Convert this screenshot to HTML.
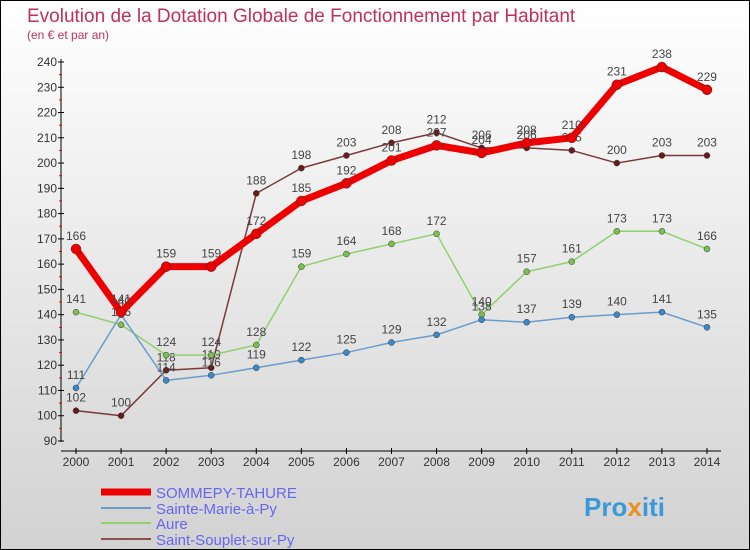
<!DOCTYPE html>
<html><head><meta charset="utf-8"><style>
body{margin:0}
#c{width:748px;height:548px;border:1px solid #000;background:linear-gradient(#fff,#d2d2d2);position:relative;font-family:"Liberation Sans",sans-serif}
</style></head><body>
<div id="c">
<svg id="s" width="748" height="548" style="position:absolute;left:0;top:0" font-family="Liberation Sans, sans-serif">
<text x="26" y="21" font-size="19" fill="#c0305a">Evolution de la Dotation Globale de Fonctionnement par Habitant</text>
<text x="26" y="38" font-size="12" fill="#c0305a">(en € et par an)</text>
<g id="axes"></g><g id="series"></g>
<g>
<line x1="100" y1="491" x2="150" y2="491" stroke="#e00" stroke-width="7"/>
<text x="155" y="497" font-size="15" fill="#6666ee">SOMMEPY-TAHURE</text>
<line x1="100" y1="507" x2="150" y2="507" stroke="#6a9ccc" stroke-width="2"/>
<text x="155" y="513" font-size="15" fill="#6666ee">Sainte-Marie-à-Py</text>
<line x1="100" y1="522" x2="150" y2="522" stroke="#90d070" stroke-width="2"/>
<text x="155" y="528" font-size="15" fill="#6666ee">Aure</text>
<line x1="100" y1="538" x2="150" y2="538" stroke="#8a5050" stroke-width="2"/>
<text x="155" y="544" font-size="15" fill="#6666ee">Saint-Souplet-sur-Py</text>
</g>
<text x="583" y="515" font-size="26" font-weight="bold" fill="#3a9ad8">Pro<tspan fill="#e89020">x</tspan>iti</text>
</svg></div>
<script>
const years=[2000,2001,2002,2003,2004,2005,2006,2007,2008,2009,2010,2011,2012,2013,2014];
const sommepy=[166,141,159,159,172,185,192,201,207,204,208,210,231,238,229];
const sainteMarie=[111,140,114,116,119,122,125,129,132,138,137,139,140,141,135];
const aure=[141,136,124,124,128,159,164,168,172,140,157,161,173,173,166];
const souplet=[102,100,118,119,188,198,203,208,212,206,206,205,200,203,203];
const yTicks=[90,100,110,120,130,140,150,160,170,180,190,200,210,220,230,240];
const NS="http://www.w3.org/2000/svg";
const X=i=>75+i*45.07, Y=v=>440-(v-90)*(379/150);
function el(t,a,p){const e=document.createElementNS(NS,t);for(const k in a)e.setAttribute(k,a[k]);p.appendChild(e);return e;}
const ax=document.getElementById('axes'),sg=document.getElementById('series');
el('line',{x1:60,y1:58,x2:60,y2:441,stroke:'#000'},ax);
el('line',{x1:60,y1:450,x2:720,y2:450,stroke:'#000'},ax);
yTicks.forEach(v=>{el('line',{x1:57,y1:Y(v),x2:63,y2:Y(v),stroke:'#000'},ax);
 if(v<240)el('line',{x1:58,y1:Y(v+5),x2:61,y2:Y(v+5),stroke:'#e00'},ax);
 const t=el('text',{x:56,y:Y(v)+4,'font-size':12,fill:'#333','text-anchor':'end'},ax);t.textContent=v;
 
 });
years.forEach((y,i)=>{el('line',{x1:X(i),y1:447,x2:X(i),y2:453,stroke:'#000'},ax);
 const t=el('text',{x:X(i),y:465,'font-size':12,fill:'#333','text-anchor':'middle'},ax);t.textContent=y;
 
 });
function draw(d,color,dot,w,r,name){const g=el('g',{},sg);
 
 
 el('polyline',{points:d.map((v,i)=>X(i)+','+Y(v)).join(' '),fill:'none',stroke:color,'stroke-width':w,'stroke-linejoin':'round'},g);
 d.forEach((v,i)=>{el('circle',{cx:X(i),cy:Y(v),r:r,fill:dot,stroke:'#333','stroke-width':0.5},g);
 const t=el('text',{x:X(i),y:Y(v)-9,'font-size':12,fill:'#444','text-anchor':'middle'},g);t.textContent=v;});}
draw(souplet,'#7a3a3a','#6a1a1a',1.5,3,'series-saint-souplet');
draw(aure,'#90d070','#7ac050',1.5,3,'series-aure');
draw(sainteMarie,'#6a9ccc','#3a88c8',1.5,3,'series-sainte-marie');
draw(sommepy,'#e00','#e00',7,5,'series-sommepy');
</script>
</body></html>
